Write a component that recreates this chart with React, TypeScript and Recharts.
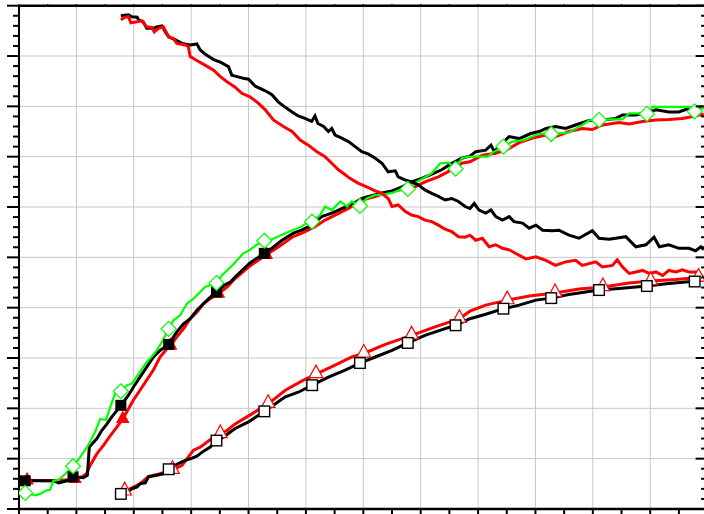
import { LineChart, Line, XAxis, YAxis, CartesianGrid } from 'recharts';

type Pt = [number, number];

// grid positions (no labels are shown on the chart)
const xGrid = [-1.3, 10.7, 22.7, 34.7, 46.7, 58.7, 70.7, 82.7, 94.7, 106.7, 118.7, 130.7, 142.7];
const yGrid = [0, 10, 20, 30, 40, 50, 60, 70, 80, 90, 100];

// green, hollow diamonds
const greenRise: Pt[] = [
  [0, 3.2], [2.1, 2.7], [3.1, 3.0], [4.2, 3.6], [5.2, 3.8], [5.9, 5.6], [7.0, 5.8], [8.4, 7.0],
  [10, 8.5], [11.5, 10.3], [13.2, 12.7], [14.6, 15.3], [15.7, 17.9], [16.9, 17.7], [17.8, 20.3],
  [18.8, 22.9], [20, 23.4], [21.3, 24.6], [22.3, 24.9], [23.4, 26.4], [25.4, 29.2], [26.5, 30.3],
  [27.5, 31.5], [28.6, 33.2], [30, 35.8], [31.0, 37.5], [32.4, 38.5], [33.8, 40.8], [35.2, 41.8],
  [36.6, 43.1], [37.6, 44.1], [40, 44.9], [41.1, 46.4], [42.2, 47.4], [43.6, 48.7], [45.6, 50.8],
  [46.7, 51.3], [48.4, 52.5], [50, 53.3], [51.6, 53.6], [54.4, 54.8], [55.4, 55.2], [57.8, 56.1],
  [58.9, 56.9], [60, 57.1], [61.7, 58.4], [62.7, 60.1], [64.1, 59.4], [65.9, 61.1], [67.3, 60.1],
  [68.3, 61.1], [70, 60.2], [71.4, 61.7], [73.2, 62.4], [74.6, 62.4], [76.7, 62.8], [78.4, 63.4],
  [80, 63.6], [81.9, 65.0], [83.6, 65.9], [85.0, 66.7], [86.8, 68.7], [88.5, 68.8], [90, 67.6],
  [91.3, 69.7], [92.8, 70.0], [96.7, 70.0], [98.1, 71.0], [100, 72.0], [101.9, 73.0], [104.3, 73.3],
  [106.8, 74.3], [108.2, 74.6], [110, 74.5], [110.9, 74.6], [113.7, 74.8], [116.5, 76.3], [117.9, 77.2],
  [120, 77.3], [122.1, 77.4], [124.9, 77.4], [126.3, 78.6], [128.7, 78.6], [130, 78.5], [131.2, 79.9],
  [134.6, 79.9], [138.8, 79.9], [140, 79.0], [141.9, 79.7],
];

// black, filled squares
const blackRise: Pt[] = [
  [0, 5.6], [3.1, 5.6], [5.9, 5.6], [7.0, 5.2], [8.7, 5.6], [10, 6.4], [12.1, 6.2], [13.0, 6.7],
  [13.4, 12.3], [15.0, 14.0], [16.0, 15.6], [17.1, 16.9], [18.1, 18.3], [19.2, 19.6], [20, 20.6],
  [21.6, 22.6], [22.6, 24.2], [24.0, 26.2], [25.4, 28.2], [26.8, 30.2], [28.2, 31.5], [30, 32.7],
  [31.7, 35.2], [33.1, 36.8], [34.5, 37.8], [35.9, 39.5], [37.3, 40.8], [38.7, 42.1], [40, 43.1],
  [41.5, 44.4], [42.9, 45.1], [43.9, 46.1], [47.0, 48.9], [50, 50.8], [51.6, 51.8], [53.7, 53.4],
  [56.1, 54.8], [57.8, 55.4], [59.9, 56.4], [62.0, 58.1], [64.1, 58.8], [66.2, 59.7], [68.6, 60.7],
  [70.4, 61.7], [71.8, 62.1], [74.6, 62.8], [76.7, 63.2], [78.8, 64.0], [80.8, 65.0], [82.9, 65.7],
  [84.7, 66.4], [87.1, 67.4], [89.2, 68.7], [91.3, 69.7], [93.0, 70.1], [94.2, 71.0], [96.3, 71.3],
  [97.4, 72.3], [98.1, 71.0], [99.8, 72.7], [101.2, 74.0], [103.3, 73.6], [105.7, 74.6], [107.5, 75.0],
  [108.9, 75.6], [110.9, 76.0], [113.0, 75.6], [115.1, 76.3], [117.9, 77.2], [120.7, 77.3],
  [123.5, 77.6], [124.9, 78.3], [127.7, 78.3], [130.5, 78.9], [131.9, 79.3], [134.6, 78.9],
  [136.7, 78.9], [138.8, 79.6], [141.6, 79.9],
];

// red, filled triangles
const redRise: Pt[] = [
  [0.4, 5.7], [5.2, 5.6], [8.7, 5.8], [10.4, 6.0], [11.9, 6.4], [12.8, 7.0], [13.6, 8.7], [15.0, 11.0],
  [16.4, 12.7], [17.8, 14.6], [19.2, 16.3], [20.4, 17.9], [21.6, 19.9], [22.6, 21.6], [24.0, 23.6],
  [25.4, 25.6], [26.8, 27.6], [28.2, 30.2], [29.6, 31.8], [30.4, 32.5], [31.7, 34.2], [33.1, 35.8],
  [34.5, 37.8], [35.9, 39.1], [37.3, 40.8], [38.7, 41.8], [40.4, 42.8], [42.2, 44.1], [43.9, 45.8],
  [47.0, 48.3], [50.4, 50.5], [53.0, 52.1], [55.8, 54.0], [57.9, 54.8], [60.6, 56.1], [62.7, 57.4],
  [64.8, 58.4], [67.6, 59.7], [70.4, 61.4], [73.2, 62.1], [76.0, 63.0], [78.8, 63.5], [81.5, 64.0],
  [83.6, 65.0], [86.4, 66.0], [89.2, 67.4], [91.3, 68.7], [93.0, 69.0], [95.6, 70.3], [98.4, 70.7],
  [100.5, 71.3], [103.3, 72.8], [106.1, 73.7], [108.9, 74.3], [111.0, 74.0], [113.7, 75.0],
  [116.5, 75.6], [118.6, 75.4], [120.7, 76.3], [124.2, 76.8], [126.3, 76.5], [129.1, 77.0],
  [131.9, 77.3], [134.6, 77.4], [137.4, 77.6], [140.2, 78.1], [141.9, 78.5],
];

// black, falling
const blackFall: Pt[] = [
  [20.0, 98.0], [21.6, 98.2], [22.3, 97.8], [23.4, 97.7], [23.7, 97.2], [24.7, 96.8], [25.4, 95.5],
  [26.8, 95.5], [27.5, 95.8], [28.6, 96.0], [29.3, 94.8], [30.0, 93.8], [31.4, 93.2], [32.8, 92.5],
  [34.5, 92.2], [35.9, 92.4], [36.6, 91.2], [37.6, 90.4], [39.4, 89.3], [40.8, 88.8], [42.5, 87.9],
  [43.2, 86.2], [43.9, 86.0], [45.6, 85.6], [46.7, 85.4], [48.1, 84.0], [50.2, 83.1], [51.6, 82.3],
  [52.9, 80.9], [54.4, 79.8], [55.8, 78.9], [57.1, 78.1], [58.5, 77.6], [59.9, 77.0], [60.6, 78.1],
  [61.2, 76.6], [62.4, 76.0], [63.4, 75.0], [64.1, 75.6], [64.8, 74.3], [66.2, 73.7], [67.6, 73.0],
  [69.0, 72.0], [70.4, 71.0], [71.8, 70.5], [73.2, 69.7], [74.6, 68.7], [75.9, 67.0], [77.4, 67.2],
  [78.0, 66.0], [79.4, 65.4], [80.8, 65.0], [82.2, 64.4], [83.6, 63.4], [85.0, 62.7], [86.4, 62.1],
  [87.8, 61.4], [89.2, 61.7], [90.6, 61.1], [92.0, 60.1], [93.0, 59.7], [93.9, 60.7], [94.9, 59.4],
  [96.3, 58.8], [97.4, 59.4], [98.4, 58.1], [99.8, 57.4], [101.2, 58.1], [102.2, 57.1], [104.0, 56.8],
  [105.4, 55.8], [106.8, 56.4], [108.2, 55.4], [110.2, 55.3], [111.6, 55.4], [113.7, 54.4],
  [115.8, 53.8], [118.6, 55.3], [120.0, 53.8], [122.1, 53.6], [123.5, 53.8], [125.6, 54.1],
  [127.7, 52.1], [129.8, 52.5], [131.5, 54.0], [132.6, 52.1], [134.6, 52.5], [136.7, 51.8],
  [138.8, 51.8], [140.2, 51.3], [141.3, 52.1], [141.9, 51.5],
];

// red, falling
const redFall: Pt[] = [
  [20.0, 97.2], [20.9, 97.7], [21.6, 97.8], [22.1, 96.6], [23.4, 96.8], [24.4, 97.0], [25.4, 95.8],
  [26.5, 95.7], [27.0, 94.8], [27.9, 95.5], [28.9, 95.8], [30.0, 93.8], [31.0, 93.5], [31.7, 92.5],
  [33.5, 92.2], [34.1, 91.9], [34.5, 89.9], [35.9, 89.1], [37.6, 88.2], [39.4, 87.2], [40.8, 85.9],
  [42.2, 84.9], [43.9, 83.8], [45.3, 82.6], [47.0, 81.9], [48.8, 80.6], [50.2, 79.3], [51.9, 77.3],
  [54.0, 76.0], [55.8, 75.0], [57.5, 73.3], [59.2, 72.3], [61.0, 71.0], [62.7, 70.0], [64.1, 68.7],
  [65.5, 67.4], [66.5, 66.7], [67.9, 65.7], [69.7, 64.7], [71.4, 64.0], [73.2, 63.2], [74.6, 62.7],
  [75.9, 61.7], [76.7, 60.1], [78.0, 60.4], [79.5, 59.1], [80.8, 58.4], [82.2, 58.1], [83.6, 57.4],
  [85.0, 57.1], [86.4, 56.4], [87.8, 55.6], [89.2, 55.1], [90.6, 54.1], [92.0, 54.0], [93.0, 54.4],
  [94.2, 53.4], [95.6, 53.8], [97.0, 52.1], [98.4, 52.5], [99.8, 51.8], [101.2, 51.5], [104.7, 49.7],
  [106.8, 50.1], [108.9, 49.4], [110.9, 48.4], [113.0, 49.1], [115.1, 49.4], [116.5, 48.4],
  [119.3, 49.1], [120.7, 48.1], [122.8, 48.4], [123.8, 49.5], [124.9, 48.1], [126.3, 46.8],
  [127.7, 47.1], [129.1, 47.4], [130.5, 46.8], [131.9, 47.1], [133.3, 46.4], [134.6, 47.4],
  [136.1, 47.1], [137.4, 47.5], [138.8, 47.1], [140.9, 47.1], [141.6, 46.1],
];

// black, hollow squares
const blackLow: Pt[] = [
  [20, 3.0], [21.3, 3.4], [22.3, 4.0], [23.4, 4.4], [24.0, 5.0], [25.1, 5.2], [25.8, 6.4], [27.5, 6.7],
  [28.9, 7.0], [30, 7.9], [31.7, 8.9], [33.1, 9.5], [34.9, 10.1], [35.9, 10.5], [37.3, 11.5],
  [38.7, 12.3], [40, 13.6], [41.5, 14.3], [42.9, 15.3], [43.9, 16.0], [46.7, 17.3], [50, 19.4],
  [52.3, 20.9], [54.4, 22.3], [57.1, 23.2], [60, 24.6], [63.4, 26.2], [66.9, 27.6], [70, 29.0],
  [73.2, 30.2], [76.7, 31.5], [80, 33.0], [83.6, 34.5], [86.4, 35.4], [90, 36.5], [93.0, 37.8],
  [96.3, 38.7], [100, 39.8], [103.3, 40.5], [106.8, 41.5], [110, 41.9], [113.7, 42.6], [117.2, 43.1],
  [120, 43.5], [124.2, 43.8], [127.7, 44.1], [130, 44.3], [134.6, 44.8], [138.1, 45.1], [140, 45.2],
  [141.9, 45.6],
];

// red, hollow triangles
const redLow: Pt[] = [
  [20.8, 3.5], [24.0, 5.0], [25.8, 6.5], [28.2, 7.0], [30.8, 7.8], [32.8, 8.7], [35.2, 11.7],
  [36.6, 12.3], [39.4, 14.3], [40.8, 14.9], [42.2, 15.6], [43.9, 16.9], [47.4, 18.9], [50.8, 20.9],
  [54.4, 23.6], [57.8, 25.4], [60.8, 26.8], [64.8, 28.6], [68.3, 30.2], [70.8, 30.9], [75.3, 32.7],
  [80.8, 34.5], [85.7, 36.2], [90.8, 37.8], [93.0, 39.3], [96.3, 40.5], [100.8, 41.5], [105.4, 42.3],
  [110.8, 42.9], [115.8, 43.7], [120.8, 44.1], [126.3, 44.9], [130.8, 45.3], [136.0, 45.6],
  [140.8, 46.0], [141.9, 46.1],
];

const rows = (pts: Pt[]) => pts.map(([x, y]) => ({ x, y }));

const xTicks = xGrid.flatMap((v, i) => (i < xGrid.length - 1 ? [v, +(v + 6).toFixed(1)] : [v]));
const yTicks = yGrid.flatMap((v, i) => (i < yGrid.length - 1 ? [v, v + 2, v + 4, v + 6, v + 8] : [v]));

const isMajorY = (v: number) => v % 10 === 0;

const BottomTick = ({ x, y }: any) => (
  <line x1={x} x2={x} y1={y} y2={y + 6} stroke="#000" strokeWidth={2} />
);
const TopTick = ({ x, y }: any) => (
  <line x1={x} x2={x} y1={y - 1.5} y2={y} stroke="#000" strokeWidth={1.5} />
);
const LeftTick = ({ x, y, payload }: any) => {
  const len = isMajorY(payload.value) ? 12 : 6;
  return <line x1={x - len} x2={x} y1={y} y2={y} stroke="#000" strokeWidth={2} />;
};
const RightTick = ({ x, y, payload }: any) => {
  const len = isMajorY(payload.value) ? 12 : 6.5;
  return <line x1={x - len} x2={x} y1={y} y2={y} stroke="#000" strokeWidth={2} />;
};

type Kind = 'filledSquare' | 'filledTriangle' | 'diamond' | 'square' | 'triangle';

const markerDot = (kind: Kind, offset: number, maxX: number) => (props: any) => {
  const { cx, cy, payload, index } = props;
  const k = (payload.x - offset) / 10;
  const on = Math.abs(k - Math.round(k)) < 0.02 && payload.x <= maxX + 0.01;
  if (!on || cx == null || cy == null) return <g key={`n${index}`} />;
  switch (kind) {
    case 'filledSquare':
      return <rect key={`m${index}`} x={cx - 5.5} y={cy - 5.5} width={11} height={11} fill="#000" />;
    case 'filledTriangle':
      return (
        <polygon key={`m${index}`} points={`${cx},${cy - 8.5} ${cx + 6.8},${cy + 4.2} ${cx - 6.8},${cy + 4.2}`} fill="#ff0000" />
      );
    case 'diamond':
      return (
        <polygon
          key={`m${index}`}
          points={`${cx},${cy - 7.5} ${cx + 7.5},${cy} ${cx},${cy + 7.5} ${cx - 7.5},${cy}`}
          fill="#fff"
          stroke="#00ff00"
          strokeWidth={1.2}
        />
      );
    case 'square':
      return (
        <rect key={`m${index}`} x={cx - 5.3} y={cy - 5.3} width={10.6} height={10.6} fill="#fff" stroke="#000" strokeWidth={1.4} />
      );
    default:
      return (
        <polygon
          key={`m${index}`}
          points={`${cx},${cy - 9} ${cx + 6.8},${cy + 3.6} ${cx - 6.8},${cy + 3.6}`}
          fill="#fff"
          stroke="#ff0000"
          strokeWidth={1.2}
        />
      );
  }
};

const App = () => {
  return (
    <div style={{ position: 'absolute', left: 0, top: 0, width: 704, height: 514, overflow: 'hidden', background: '#fff' }}>
      <LineChart width={720} height={514} margin={{ top: 0, right: 0, bottom: 0, left: 0 }}>
        <CartesianGrid stroke="#c8c8c8" strokeWidth={1} horizontalValues={yGrid} verticalValues={xGrid} />
        <XAxis
          type="number"
          dataKey="x"
          domain={[xGrid[0], xGrid[xGrid.length - 1]]}
          ticks={xTicks}
          interval={0}
          allowDataOverflow
          height={5}
          axisLine={{ stroke: '#000', strokeWidth: 2.5 }}
          tickLine={false}
          tickSize={0}
          tickMargin={0}
          tick={BottomTick}
        />
        <XAxis
          xAxisId="top"
          orientation="top"
          type="number"
          dataKey="x"
          domain={[xGrid[0], xGrid[xGrid.length - 1]]}
          ticks={xTicks}
          interval={0}
          allowDataOverflow
          height={5.7}
          axisLine={{ stroke: '#000', strokeWidth: 2.5 }}
          tickLine={false}
          tickSize={0}
          tickMargin={0}
          tick={TopTick}
        />
        <YAxis
          type="number"
          domain={[0, 100]}
          ticks={yTicks}
          interval={0}
          allowDataOverflow
          width={19}
          axisLine={{ stroke: '#000', strokeWidth: 2 }}
          tickLine={false}
          tickSize={0}
          tickMargin={0}
          tick={LeftTick}
        />
        <YAxis
          yAxisId="right"
          orientation="right"
          type="number"
          domain={[0, 100]}
          ticks={yTicks}
          interval={0}
          allowDataOverflow
          width={12.4}
          axisLine={{ stroke: '#000', strokeWidth: 2 }}
          tickLine={false}
          tickSize={0}
          tickMargin={0}
          tick={RightTick}
        />
        <Line data={rows(redLow)} dataKey="y" type="linear" stroke="#ff0000" strokeWidth={3}
          dot={markerDot('triangle', 0.8, 141)} activeDot={false} isAnimationActive={false} />
        <Line data={rows(blackLow)} dataKey="y" type="linear" stroke="#000" strokeWidth={3}
          dot={markerDot('square', 0, 140)} activeDot={false} isAnimationActive={false} />
        <Line data={rows(redRise)} dataKey="y" type="linear" stroke="#ff0000" strokeWidth={3}
          dot={markerDot('filledTriangle', 0.4, 50.4)} activeDot={false} isAnimationActive={false} />
        <Line data={rows(blackRise)} dataKey="y" type="linear" stroke="#000" strokeWidth={3}
          dot={markerDot('filledSquare', 0, 50)} activeDot={false} isAnimationActive={false} />
        <Line data={rows(greenRise)} dataKey="y" type="linear" stroke="#00ff00" strokeWidth={2.2}
          dot={markerDot('diamond', 0, 140)} activeDot={false} isAnimationActive={false} />
        <Line data={rows(blackFall)} dataKey="y" type="linear" stroke="#000" strokeWidth={3}
          dot={false} activeDot={false} isAnimationActive={false} />
        <Line data={rows(redFall)} dataKey="y" type="linear" stroke="#ff0000" strokeWidth={3}
          dot={false} activeDot={false} isAnimationActive={false} />
      </LineChart>
    </div>
  );
};

export default App;
